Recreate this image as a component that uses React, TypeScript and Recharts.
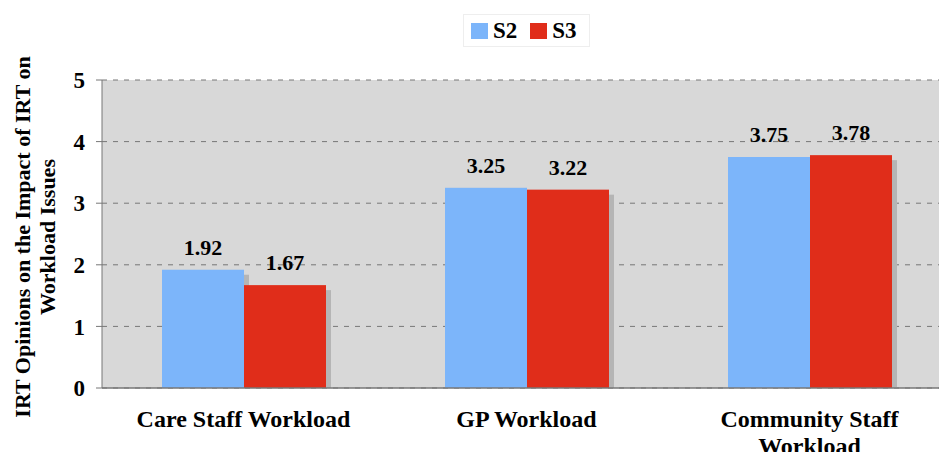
import React from "react";
import { BarChart, Bar, XAxis, YAxis, CartesianGrid, LabelList, Legend } from "recharts";

const categories = ["Care Staff Workload", "GP Workload", "Community Staff Workload"];
const s2Values = [1.92, 3.25, 3.75];
const s3Values = [1.67, 3.22, 3.78];
const yTicks = [0, 1, 2, 3, 4, 5];
const seriesNames = ["S2", "S3"];
const yLabelLines = ["IRT Opinions on the Impact of IRT on", "Workload Issues"];

const data = categories.map((c, i) => ({ name: c, S2: s2Values[i], S3: s3Values[i] }));

const FONT = "'Liberation Serif', 'Times New Roman', serif";
const BLUE = "#7cb5fa";
const RED = "#e02d1a";

const ShadowBar = (props: any) => {
  const { x, y, width, height, fill } = props;
  if (height <= 0) return null;
  return (
    <g>
      <rect x={x + 5} y={y + 5} width={width} height={Math.max(0, height - 5)} fill="#b5b5b5" />
      <rect x={x} y={y} width={width} height={height} fill={fill} />
    </g>
  );
};

const XTick = (props: any) => {
  const { x, y, payload } = props;
  const words = String(payload.value).split(" ");
  const lines: string[] = [];
  let cur = "";
  words.forEach((w) => {
    const t = cur ? cur + " " + w : w;
    if (t.length > 20 && cur) {
      lines.push(cur);
      cur = w;
    } else cur = t;
  });
  if (cur) lines.push(cur);
  return (
    <text x={x} y={y} textAnchor="middle" fontFamily={FONT} fontWeight="bold" fontSize={24} fill="#000">
      {lines.map((l, i) => (
        <tspan key={i} x={x} dy={i === 0 ? 31 : 27}>
          {l}
        </tspan>
      ))}
    </text>
  );
};

const YLabel = () => {
  const cy = 237;
  return (
    <g>
      {yLabelLines.map((l, i) => (
        <text
          key={i}
          x={0}
          y={0}
          transform={`translate(${30 + i * 25}, ${cy}) rotate(-90)`}
          textAnchor="middle"
          fontFamily={FONT}
          fontWeight="bold"
          fontSize={22}
          fill="#000"
        >
          {l}
        </text>
      ))}
    </g>
  );
};

const LegendContent = () => {
  const colors = [BLUE, RED];
  return (
    <div
      style={{
        position: "absolute",
        left: 463,
        top: 14,
        width: 127,
        height: 33,
        background: "#fff",
        border: "1px solid #eeeeee",
        boxSizing: "border-box",
        display: "flex",
        alignItems: "center",
        paddingLeft: 7,
        fontFamily: FONT,
        fontWeight: "bold",
        fontSize: 23,
      }}
    >
      {seriesNames.map((n, i) => (
        <div key={n} style={{ display: "flex", alignItems: "center", marginRight: i === 0 ? 13 : 0 }}>
          <div style={{ width: 17, height: 16, background: colors[i], marginRight: 5 }} />
          <span style={{ lineHeight: "22px" }}>{n}</span>
        </div>
      ))}
    </div>
  );
};

export default function App() {
  return (
    <div style={{ position: "absolute", left: 0, top: 0, width: 939, height: 452, overflow: "hidden", background: "#fff" }}>
      <BarChart
        width={960}
        height={452}
        data={data}
        margin={{ top: 80, right: 9, left: 0, bottom: 0 }}
        barCategoryGap={60}
        barGap={0}
      >
        <CartesianGrid
          vertical={false}
          horizontal={true}
          fill="#d8d8d8"
          fillOpacity={1}
          stroke="#777"
          strokeDasharray="5 6"
        />
        <XAxis
          dataKey="name"
          height={64}
          tickLine={false}
          axisLine={{ stroke: "#777", strokeWidth: 1.5 }}
          tick={<XTick />}
          interval={0}
        />
        <YAxis
          width={102}
          domain={[0, 5]}
          ticks={yTicks}
          interval={0}
          axisLine={{ stroke: "#777" }}
          tickLine={{ stroke: "#777" }}
          tickSize={6}
          tick={{ fontFamily: FONT, fontWeight: "bold", fontSize: 23, fill: "#000", dx: -9 }}
          label={<YLabel />}
        />
        <Legend content={<LegendContent />} wrapperStyle={{ position: "absolute", left: 0, top: 0, width: 0, height: 0 }} />
        <Bar dataKey="S2" fill={BLUE} shape={<ShadowBar />} isAnimationActive={false}>
          <LabelList
            dataKey="S2"
            position="top"
            offset={15}
            fill="#000"
            fontFamily={FONT}
            fontWeight="bold"
            fontSize={22}
            formatter={(v: any) => Number(v).toFixed(2)}
          />
        </Bar>
        <Bar dataKey="S3" fill={RED} shape={<ShadowBar />} isAnimationActive={false}>
          <LabelList
            dataKey="S3"
            position="top"
            offset={15}
            fill="#000"
            fontFamily={FONT}
            fontWeight="bold"
            fontSize={22}
            formatter={(v: any) => Number(v).toFixed(2)}
          />
        </Bar>
      </BarChart>
    </div>
  );
}
